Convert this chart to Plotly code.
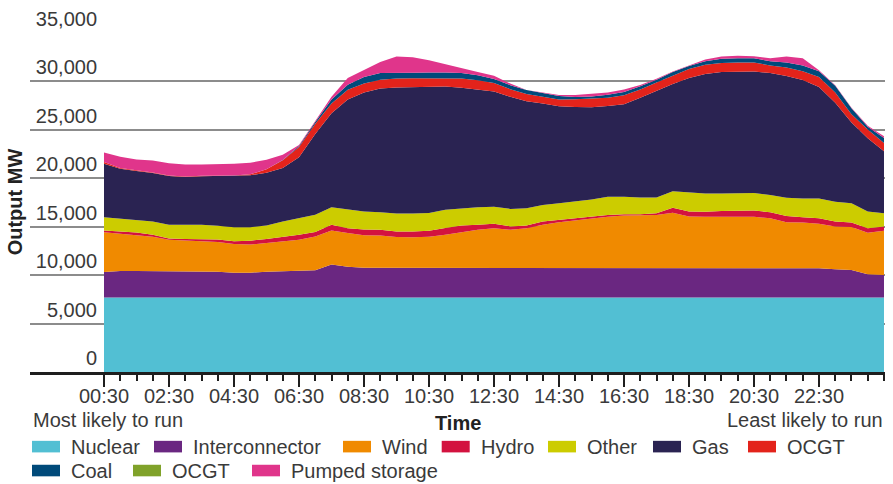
import plotly.graph_objects as go

# ---------------- data (MW, half-hourly from 00:30 to 00:30 next day) ----------------
hours = [0.5 + 0.5 * i for i in range(49)]

tick_hours = [0.5, 2.5, 4.5, 6.5, 8.5, 10.5, 12.5, 14.5, 16.5, 18.5, 20.5, 22.5]
tick_labels = ["00:30", "02:30", "04:30", "06:30", "08:30", "10:30",
               "12:30", "14:30", "16:30", "18:30", "20:30", "22:30"]

nuclear = [7700, 7700, 7700, 7700, 7700, 7700, 7700, 7700, 7700, 7700,
           7700, 7700, 7700, 7700, 7700, 7700, 7700, 7700, 7700, 7700,
           7700, 7700, 7700, 7700, 7700, 7700, 7700, 7700, 7700, 7700,
           7700, 7700, 7700, 7700, 7700, 7700, 7700, 7700, 7700, 7700,
           7700, 7700, 7700, 7700, 7700, 7700, 7700, 7700, 7700]
interconnector = [2620, 2720, 2720, 2720, 2720, 2720, 2650, 2650, 2550, 2550,
                  2650, 2720, 2720, 2800, 3410, 3160, 3060, 3060, 3060, 3060,
                  3000, 3000, 3000, 3000, 3000, 3000, 3000, 3000, 3000, 3060,
                  3060, 3060, 3060, 3000, 3000, 3000, 3000, 3060, 3000, 3060,
                  3060, 3000, 3000, 3060, 3000, 2900, 2830, 2390, 2320]
wind = [4120, 3880, 3750, 3550, 3240, 3170, 3210, 3070, 2960, 2900,
        2960, 3070, 3240, 3480, 3510, 3480, 3370, 3340, 3170, 3140,
        3270, 3480, 3740, 3990, 4150, 3990, 4150, 4500, 4760, 4880,
        5110, 5280, 5390, 5450, 5520, 5750, 5350, 5280, 5350, 5310,
        5280, 5170, 4760, 4670, 4600, 4430, 4430, 4290, 4570]
hydro = [170, 200, 230, 200, 130, 130, 160, 250, 280, 410,
         410, 440, 510, 470, 580, 510, 580, 580, 580, 610,
         610, 680, 690, 510, 450, 340, 280, 340, 250, 240,
         170, 170, 130, 130, 160, 510, 510, 510, 580, 610,
         640, 610, 650, 540, 570, 510, 480, 470, 440]
other = [1360, 1300, 1300, 1360, 1400, 1470, 1470, 1430, 1460, 1390,
         1400, 1610, 1700, 1780, 1800, 1940, 1870, 1800, 1840, 1840,
         1840, 1880, 1770, 1800, 1770, 1810, 1770, 1710, 1700, 1710,
         1770, 1870, 1810, 1740, 1640, 1710, 1970, 1870, 1800, 1810,
         1810, 1780, 1870, 1940, 2040, 2040, 1970, 1710, 1360]
gas = [5520, 5170, 5040, 5010, 5040, 4940, 5010, 5140, 5280, 5360,
       5450, 5520, 6310, 8340, 9710, 11340, 12280, 12780, 13030, 13050,
       12960, 12730, 12440, 12130, 11880, 11580, 11040, 10460, 10020, 9760,
       9530, 9370, 9540, 10290, 11010, 11070, 11830, 12340, 12540, 12540,
       12540, 12600, 12570, 12230, 11520, 10220, 8350, 7560, 6410]
ocgt = [200, 100, 80, 50, 50, 50, 50, 50, 60, 100,
        350, 800, 1050, 1050, 1020, 1020, 920, 920, 920, 920,
        950, 850, 950, 990, 890, 780, 750, 700, 700, 800,
        860, 870, 930, 850, 850, 850, 920, 950, 920, 920,
        920, 780, 890, 920, 1020, 1050, 850, 920, 850]
coal = [0, 0, 0, 0, 0, 0, 0, 0, 0, 0,
        0, 30, 100, 200, 410, 510, 680, 680, 610, 580,
        580, 610, 580, 510, 410, 410, 410, 410, 370, 250,
        250, 300, 340, 340, 300, 370, 300, 370, 440, 440,
        440, 440, 510, 580, 610, 710, 610, 270, 510]
ocgt_2 = [0, 0, 0, 0, 0, 0, 0, 0, 0, 0,
          0, 0, 0, 0, 0, 0, 0, 0, 0, 0,
          0, 0, 0, 0, 0, 0, 0, 0, 0, 0,
          0, 0, 0, 0, 0, 0, 0, 0, 0, 0,
          0, 0, 0, 0, 0, 0, 0, 0, 0]
pumped_storage = [960, 1150, 1120, 1250, 1260, 1230, 1160, 1150, 1210, 1190,
                  1000, 530, 100, 100, 270, 680, 680, 1150, 1650, 1600,
                  1280, 850, 440, 340, 340, 170, 0, 0, 100, 200,
                  300, 240, 270, 140, 100, 70, 70, 170, 240, 270,
                  200, 300, 610, 750, 100, 50, 70, 100, 170]

series_names = ["Nuclear", "Interconnector", "Wind", "Hydro", "Other",
                "Gas", "OCGT", "Coal", "OCGT", "Pumped storage"]
series_values = [nuclear, interconnector, wind, hydro, other,
                 gas, ocgt, coal, ocgt_2, pumped_storage]
series_colors = ["#52BFD3", "#6A2781", "#F08A00", "#D3123F", "#CCCC00",
                 "#2A2352", "#E3231B", "#004A7A", "#80A22A", "#E0358B"]

# ---------------- layout constants ----------------
W, H = 893, 484
ML, MR, MT, MB = 30, 8, 28, 112
PW, PH = W - ML - MR, H - MT - MB
FONT = "Liberation Sans, Arial, Helvetica, sans-serif"
TXT = "#3a3a3a"


def px_x(px):
    return (px - ML) / PW


def px_y(py):
    return (H - MB - py) / PH


fig = go.Figure()
for name, vals, col in zip(series_names, series_values, series_colors):
    fig.add_trace(go.Scatter(
        x=hours, y=vals, name=name, mode="lines", stackgroup="one",
        line=dict(width=0, color=col), fillcolor=col, showlegend=False,
        hoverinfo="x+y+name"))

minor_hours = [h for h in hours if h not in tick_hours]

fig.update_layout(
    width=W, height=H,
    margin=dict(l=ML, r=MR, t=MT, b=MB, pad=0),
    paper_bgcolor="white", plot_bgcolor="white",
    font=dict(family=FONT, size=20, color=TXT),
    showlegend=False,
)

fig.update_xaxes(
    range=[-1.777, 24.531], tickmode="array", tickvals=tick_hours, ticktext=tick_labels,
    ticks="outside", ticklen=12, tickwidth=2, tickcolor="#1e1e1e",
    showline=True, linecolor="#1e1e1e", linewidth=2.5,
    showgrid=False, zeroline=False,
    minor=dict(tickmode="array", tickvals=minor_hours, ticks="outside",
               ticklen=6, tickwidth=2, tickcolor="#1e1e1e", showgrid=False),
    ticklabelstandoff=-8,
    tickfont=dict(size=20, color=TXT),
)

fig.update_yaxes(
    range=[0, 35100], tickmode="array",
    tickvals=[0, 5000, 10000, 15000, 20000, 25000, 30000, 35000], tickformat=",",
    showgrid=True, gridcolor="#8c8c8c", gridwidth=1.5, zeroline=False,
    showline=False, ticks="",
    ticklabelposition="outside top", ticklabelstandoff=-68,
    tickfont=dict(size=20, color=TXT),
    title=dict(text="<b>Output MW</b>", font=dict(size=20, color="#222222"), standoff=7),
)

# x-axis title
fig.add_annotation(text="<b>Time</b>", xref="paper", yref="paper",
                   x=0.5, y=px_y(424), xanchor="center", yanchor="middle",
                   showarrow=False, font=dict(size=20, color="#222222"))

# end-labels of the likelihood scale
fig.add_annotation(text="Most likely to run", xref="paper", yref="paper",
                   x=px_x(31), y=px_y(421), xanchor="left", yanchor="middle",
                   showarrow=False, font=dict(size=20, color=TXT))
fig.add_annotation(text="Least likely to run", xref="paper", yref="paper",
                   x=px_x(885), y=px_y(421), xanchor="right", yanchor="middle",
                   showarrow=False, font=dict(size=20, color=TXT))

# legend (drawn as swatches + text to match the original two-row layout)
legend_rows_y = [447.5, 471.7]
legend_slots = [(32, 0), (154, 0), (343, 0), (441.7, 0), (548, 0), (653, 0), (748, 0),
                (32, 1), (133, 1), (252, 1)]
SW_W, SW_H = 28, 11.7
for name, col, (lx, row) in zip(series_names, series_colors, legend_slots):
    cy = legend_rows_y[row]
    fig.add_shape(type="rect", xref="paper", yref="paper",
                  x0=px_x(lx), x1=px_x(lx + SW_W),
                  y0=px_y(cy - SW_H / 2), y1=px_y(cy + SW_H / 2),
                  fillcolor=col, line=dict(width=0), layer="above")
    fig.add_annotation(text=name, xref="paper", yref="paper",
                       x=px_x(lx + SW_W + 9), y=px_y(cy), xanchor="left", yanchor="middle",
                       showarrow=False, font=dict(size=20, color=TXT))

fig.write_html("out.html", config={"displayModeBar": False},
               post_script="document.body.style.margin='0';document.body.style.overflow='hidden';")
